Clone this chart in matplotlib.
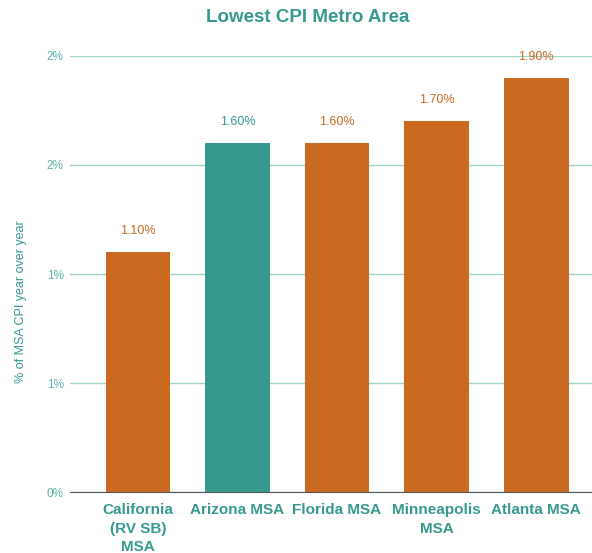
from matplotlib import pyplot as plt

# chart data
areas = ['California\n(RV SB)\nMSA', 'Arizona MSA', 'Florida MSA', 'Minneapolis\nMSA', 'Atlanta MSA']
cpi = [1.10, 1.60, 1.60, 1.70, 1.90]
bar_colors = ['#CA6A20', '#36998F', '#CA6A20', '#CA6A20', '#CA6A20']
yticks = [0.0, 0.5, 1.0, 1.5, 2.0]
ytick_labels = ['0%', '1%', '1%', '2%', '2%']

teal = '#36998F'

plt.rcParams['font.family'] = ['Liberation Sans', 'DejaVu Sans']

fig = plt.figure(figsize=(5.92, 5.53), dpi=100)
ax = fig.add_axes([0.118, 0.110, 0.882, 0.789])

x = list(range(len(areas)))
ax.bar(x, cpi, width=0.65, color=bar_colors, zorder=3)

for i in range(len(cpi)):
	ax.annotate('%.2f%%' % cpi[i], (x[i], cpi[i]), xytext=(0, 15), textcoords='offset points',
		ha='center', va='center', fontsize=9, color=bar_colors[i], zorder=4)

ax.set_xlim(-0.683, 4.56)
ax.set_ylim(0, 2.0)
ax.set_yticks(yticks)
ax.set_yticklabels(ytick_labels)
ax.set_xticks(x)
ax.set_xticklabels(areas, fontsize=11, fontweight='bold', color=teal, linespacing=1.4)

ax.grid(True, axis='y', color='#9FD3CC', linewidth=1, zorder=0)
ax.tick_params(axis='y', length=0, pad=4.5, labelsize=8.5, labelcolor='#5AAFA6')
ax.tick_params(axis='x', length=0, pad=8)
for s in ['top', 'right', 'left']:
	ax.spines[s].set_visible(False)
ax.spines['bottom'].set_color('#555555')
ax.spines['bottom'].set_zorder(5)

fig.text(0.036, 1 - 302 / 553, '% of MSA CPI year over year', rotation=90, ha='center', va='center',
	fontsize=9, color=teal)
fig.text(0.52, 1 - 18 / 553, 'Lowest CPI Metro Area', ha='center', va='center',
	fontsize=13.5, fontweight='bold', color=teal)

plt.savefig('out.png', dpi=100)
